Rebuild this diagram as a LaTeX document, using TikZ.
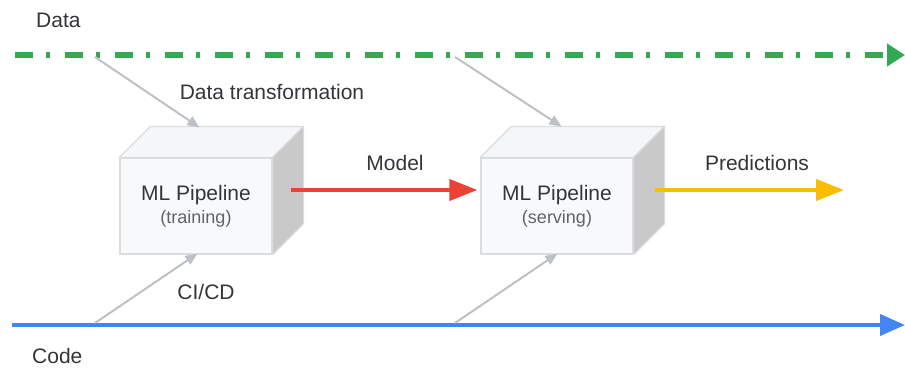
\documentclass[tikz,border=0pt]{standalone}
\usepackage{fontspec}
\setmainfont{Liberation Sans}
\usetikzlibrary{arrows.meta,calc}
\definecolor{gGreen}{HTML}{34A853}
\definecolor{gBlue}{HTML}{4285F4}
\definecolor{gRed}{HTML}{EA4335}
\definecolor{gYellow}{HTML}{FBBC04}
\definecolor{txt}{HTML}{333538}
\definecolor{subtxt}{HTML}{5F6368}
\definecolor{faceFront}{HTML}{F8F9FA}
\definecolor{faceTop}{HTML}{F5F6F7}
\definecolor{faceSide}{HTML}{C9C9C9}
\definecolor{edge}{HTML}{DADCE0}
\definecolor{feed}{HTML}{BDC0C4}
\tikzset{
  lbl/.style={text=txt, font=\fontsize{21}{25}\selectfont, inner sep=0pt},
  frontface/.style={draw=edge, line width=1.2pt, fill=faceFront, minimum width=152pt, minimum height=96pt, inner sep=0pt, align=center, text=txt, font=\fontsize{21}{23}\selectfont},
  topface/.style={draw=edge, line width=1.2pt, fill=faceTop, line join=round},
  sideface/.style={draw=edge, line width=1.2pt, fill=faceSide, line join=round},
  feedarrow/.style={draw=feed, line width=2pt, -{Triangle[length=12pt,width=10pt]}},
  flow/.style={line width=4pt, -{Triangle[length=28pt,width=21pt]}},
}
\newcommand{\subline}[1]{{\color{subtxt}\fontsize{18}{22}\selectfont #1}}
\begin{document}
\begin{tikzpicture}[x=1pt,y=-1pt]
\useasboundingbox (0,0) rectangle (905,367);
% timelines
\coordinate (ds) at (15,55);
\coordinate (de) at (905,55);
\coordinate (cs) at (12,325);
\coordinate (ce) at (905,325);
\draw[gGreen, line width=5.5pt, dash pattern=on 18pt off 13pt on 4pt off 15pt, -{Triangle[length=18pt,width=22pt]}] (ds) -- (de);
\draw[gBlue, flow, line width=4pt, -{Triangle[length=25pt,width=21pt]}] (cs) -- (ce);
\node[lbl, anchor=west] (datalbl) at (36,20) {Data};
\node[lbl, anchor=west] (codelbl) at (32,356) {Code};
% boxes
\node[frontface] (b1) at (196,206) {ML Pipeline\\\subline{(training)}};
\node[frontface] (b2) at (557,206) {ML Pipeline\\\subline{(serving)}};
\foreach \b in {b1,b2}{
  \draw[topface] (\b.north west) -- ++(31,-31) -- ($(\b.north east)+(31,-31)$) -- (\b.north east) -- cycle;
  \draw[sideface] (\b.north east) -- ++(31,-31) -- ($(\b.south east)+(31,-31)$) -- (\b.south east) -- cycle;
}
% feed arrows
\coordinate (t1) at (95,57);
\coordinate (t2) at (455,57);
\coordinate (c1) at (95,323);
\coordinate (c2) at (455,323);
\coordinate (b1top) at ($(b1.north west)+(80,-30)$);
\coordinate (b2top) at ($(b2.north west)+(81,-31)$);
\coordinate (b1bot) at ($(b1.south west)+(78,-1)$);
\coordinate (b2bot) at ($(b2.south west)+(77,-1)$);
\draw[feedarrow] (t1) -- (b1top);
\draw[feedarrow] (t2) -- (b2top);
\draw[feedarrow] (c1) -- (b1bot);
\draw[feedarrow] (c2) -- (b2bot);
\node[lbl] (dtlbl) at (272,92) {Data transformation};
\node[lbl] (cicdlbl) at (206,292) {CI/CD};
% model and predictions
\coordinate (m1) at ($(b1.east)+(18,-16)$);
\coordinate (m2) at ($(b2.west)+(-3,-16)$);
\coordinate (p1) at ($(b2.east)+(21,-16)$);
\coordinate (p2) at (844,190);
\draw[gRed, flow] (m1) -- (m2);
\draw[gYellow, flow] (p1) -- (p2);
\node[lbl] (modellbl) at (395,163) {Model};
\node[lbl] (predlbl) at (757,163) {Predictions};
\end{tikzpicture}
\end{document}
